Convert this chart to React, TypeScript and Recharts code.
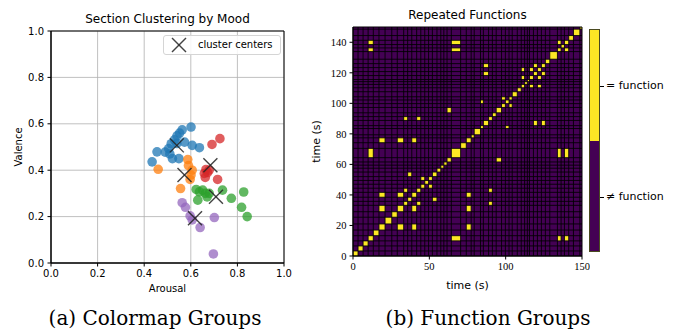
import React from "react";
import {
  CartesianGrid,
  ReferenceArea,
  ReferenceLine,
  Scatter,
  ScatterChart,
  XAxis,
  YAxis,
} from "recharts";

// (a) sections per mood cluster
const blueSections = [
  { arousal: 0.434, valence: 0.436 },
  { arousal: 0.455, valence: 0.479 },
  { arousal: 0.49, valence: 0.478 },
  { arousal: 0.505, valence: 0.493 },
  { arousal: 0.516, valence: 0.514 },
  { arousal: 0.53, valence: 0.531 },
  { arousal: 0.541, valence: 0.548 },
  { arousal: 0.552, valence: 0.56 },
  { arousal: 0.563, valence: 0.574 },
  { arousal: 0.601, valence: 0.586 },
  { arousal: 0.573, valence: 0.521 },
  { arousal: 0.606, valence: 0.507 },
  { arousal: 0.637, valence: 0.497 },
  { arousal: 0.521, valence: 0.45 },
  { arousal: 0.549, valence: 0.45 },
  { arousal: 0.51, valence: 0.47 },
  { arousal: 0.54, valence: 0.515 },
];
const orangeSections = [
  { arousal: 0.46, valence: 0.404 },
  { arousal: 0.587, valence: 0.446 },
  { arousal: 0.606, valence: 0.4 },
  { arousal: 0.601, valence: 0.379 },
  { arousal: 0.597, valence: 0.36 },
  { arousal: 0.556, valence: 0.321 },
  { arousal: 0.59, valence: 0.42 },
];
const greenSections = [
  { arousal: 0.623, valence: 0.317 },
  { arousal: 0.637, valence: 0.307 },
  { arousal: 0.63, valence: 0.271 },
  { arousal: 0.651, valence: 0.314 },
  { arousal: 0.662, valence: 0.3 },
  { arousal: 0.679, valence: 0.3 },
  { arousal: 0.736, valence: 0.314 },
  { arousal: 0.774, valence: 0.279 },
  { arousal: 0.827, valence: 0.306 },
  { arousal: 0.818, valence: 0.24 },
  { arousal: 0.842, valence: 0.2 },
  { arousal: 0.67, valence: 0.285 },
];
const redSections = [
  { arousal: 0.725, valence: 0.536 },
  { arousal: 0.691, valence: 0.511 },
  { arousal: 0.665, valence: 0.403 },
  { arousal: 0.658, valence: 0.386 },
  { arousal: 0.662, valence: 0.369 },
  { arousal: 0.679, valence: 0.4 },
  { arousal: 0.715, valence: 0.36 },
  { arousal: 0.672, valence: 0.39 },
];
const purpleSections = [
  { arousal: 0.563, valence: 0.26 },
  { arousal: 0.577, valence: 0.24 },
  { arousal: 0.597, valence: 0.203 },
  { arousal: 0.606, valence: 0.186 },
  { arousal: 0.64, valence: 0.153 },
  { arousal: 0.701, valence: 0.196 },
  { arousal: 0.697, valence: 0.039 },
];
const clusterCenters = [
  { arousal: 0.54, valence: 0.507 },
  { arousal: 0.573, valence: 0.379 },
  { arousal: 0.684, valence: 0.421 },
  { arousal: 0.708, valence: 0.286 },
  { arousal: 0.618, valence: 0.193 },
];
const moodTicks = [0, 0.2, 0.4, 0.6, 0.8, 1.0];

// (b) segment boundaries (s) and function label per segment ("" = unique)
const segmentBounds = [
  0, 3.3, 6.6, 9.9, 13.3, 17, 21, 25.4, 29, 33.2, 35.8, 38.5, 41.7, 44.4, 47,
  49.5, 52, 55, 57.5, 59.5, 61.6, 64.4, 70.5, 74.2, 77.4, 79.4, 83.5, 85.4,
  88.8, 91.3, 93.8, 97.3, 99.8, 102.2, 104.3, 107.6, 110.2, 112.4, 114.2,
  115.6, 118.2, 120.8, 123.4, 126, 128.9, 133.9, 136.3, 138.5, 141.3, 144.4,
  148.6, 150,
];
const segmentLabels = [
  "", "", "", "A", "", "B", "", "", "B", "C", "D", "B", "C", "J", "", "J",
  "D", "", "", "", "E", "A", "", "B", "", "", "F", "H", "C", "", "E", "G",
  "F", "G", "", "", "I", "", "", "I", "H", "I", "H", "", "", "A", "", "A",
  "", "", "",
];
const timeTicksX = [0, 50, 100, 150];
const timeTicksY = [0, 20, 40, 60, 80, 100, 120, 140];

const YELLOW = "#fde725";
const PURPLE = "#440154";

const sans = "DejaVu Sans, sans-serif";
const serif = "Liberation Serif, serif";

const dot = (color: string) => (props: any) => (
  <circle cx={props.cx} cy={props.cy} r={4.8} fill={color} fillOpacity={0.75} />
);

const cross = (props: any) => {
  const s = 7;
  return (
    <g stroke="#222" strokeOpacity={0.85} strokeWidth={1.4}>
      <line x1={props.cx - s} y1={props.cy - s} x2={props.cx + s} y2={props.cy + s} />
      <line x1={props.cx - s} y1={props.cy + s} x2={props.cx + s} y2={props.cy - s} />
    </g>
  );
};

function MoodScatter() {
  const tick = { fill: "#000", fontSize: 10, fontFamily: sans };
  return (
    <ScatterChart
      width={300}
      height={300}
      margin={{ top: 31, right: 16, bottom: 7, left: 0 }}
    >
      <CartesianGrid stroke="#b0b0b0" strokeWidth={0.8} />
      <XAxis
        type="number"
        dataKey="arousal"
        domain={[0, 1]}
        ticks={moodTicks}
        tickFormatter={(v) => v.toFixed(1)}
        tick={tick}
        tickSize={3.5}
        tickMargin={3.5}
        stroke="#000"
        height={30}
        label={{ value: "Arousal", position: "insideBottom", offset: 1.5, fill: "#000", fontSize: 10, fontFamily: sans }}
      />
      <YAxis
        type="number"
        dataKey="valence"
        domain={[0, 1]}
        ticks={moodTicks}
        tickFormatter={(v) => v.toFixed(1)}
        tick={tick}
        tickSize={3.5}
        tickMargin={3.5}
        stroke="#000"
        width={51}
        label={{ value: "Valence", angle: -90, position: "insideLeft", offset: 18, fill: "#000", fontSize: 10, fontFamily: sans, style: { textAnchor: "middle" } }}
      />
      <Scatter data={blueSections} shape={dot("#1f77b4")} isAnimationActive={false} />
      <Scatter data={orangeSections} shape={dot("#ff7f0e")} isAnimationActive={false} />
      <Scatter data={greenSections} shape={dot("#2ca02c")} isAnimationActive={false} />
      <Scatter data={redSections} shape={dot("#d62728")} isAnimationActive={false} />
      <Scatter data={purpleSections} shape={dot("#9467bd")} isAnimationActive={false} />
      <Scatter data={clusterCenters} shape={cross} isAnimationActive={false} />
      <ReferenceArea x1={0} x2={1} y1={0} y2={1} fill="none" stroke="#000" strokeWidth={1} />
    </ScatterChart>
  );
}

function RepeatMatrix() {
  const n = segmentLabels.length;
  const blocks: { key: string; x1: number; x2: number; y1: number; y2: number }[] = [];
  for (let i = 0; i < n; i++) {
    for (let j = 0; j < n; j++) {
      const same = i === j || (segmentLabels[i] !== "" && segmentLabels[i] === segmentLabels[j]);
      if (same) {
        blocks.push({
          key: `${i}-${j}`,
          x1: segmentBounds[j],
          x2: segmentBounds[j + 1],
          y1: segmentBounds[i],
          y2: segmentBounds[i + 1],
        });
      }
    }
  }
  const inner = segmentBounds.slice(1, -1);
  const tick = { fill: "#000", fontSize: 10.5, fontFamily: serif };
  return (
    <ScatterChart
      width={285}
      height={300}
      margin={{ top: 27, right: 8, bottom: 8, left: 0 }}
    >
      <XAxis
        type="number"
        dataKey="t"
        domain={[0, 150]}
        ticks={timeTicksX}
        tick={tick}
        tickSize={3.5}
        tickMargin={3}
        stroke="#000"
        height={36}
        allowDataOverflow
        label={{ value: "time (s)", position: "insideBottom", offset: 3, fill: "#000", fontSize: 11, fontFamily: sans }}
      />
      <YAxis
        type="number"
        dataKey="t"
        domain={[0, 150]}
        ticks={timeTicksY}
        tick={tick}
        tickSize={3.5}
        tickMargin={3}
        stroke="#000"
        width={48}
        allowDataOverflow
        label={{ value: "time (s)", angle: -90, position: "insideLeft", offset: 11, fill: "#000", fontSize: 11, fontFamily: sans, style: { textAnchor: "middle" } }}
      />
      <ReferenceArea x1={0} x2={150} y1={0} y2={150} fill={PURPLE} fillOpacity={1} stroke="none" />
      {blocks.map((b) => (
        <ReferenceArea key={b.key} x1={b.x1} x2={b.x2} y1={b.y1} y2={b.y2} fill={YELLOW} fillOpacity={1} stroke="none" />
      ))}
      {inner.map((t) => (
        <ReferenceLine key={`v${t}`} x={t} stroke="#000" strokeWidth={1} strokeOpacity={0.85} />
      ))}
      {inner.map((t) => (
        <ReferenceLine key={`h${t}`} y={t} stroke="#000" strokeWidth={1} strokeOpacity={0.85} />
      ))}
      <ReferenceArea x1={0} x2={150} y1={0} y2={150} fill="none" stroke="#000" strokeWidth={1} />
    </ScatterChart>
  );
}

export default function App() {
  const abs = (l: number, t: number): React.CSSProperties => ({ position: "absolute", left: l, top: t });
  return (
    <div style={{ position: "absolute", left: 0, top: 0, width: 681, height: 335, background: "#fff", overflow: "hidden" }}>
      <div style={abs(0, 0)}>
        <MoodScatter />
      </div>
      <div style={{ ...abs(51, 12), width: 233, textAlign: "center", fontFamily: sans, fontSize: 12, lineHeight: "14px" }}>
        Section Clustering by Mood
      </div>
      <div
        style={{
          ...abs(163, 35),
          width: 116,
          height: 18,
          border: "1px solid #d5d5d5",
          borderRadius: 3,
          background: "rgba(255,255,255,0.85)",
        }}
      >
        <svg width={30} height={18} style={{ position: "absolute", left: 0, top: 0 }}>
          <g stroke="#222" strokeOpacity={0.85} strokeWidth={1.4}>
            <line x1={8} y1={2} x2={22} y2={16} />
            <line x1={8} y1={16} x2={22} y2={2} />
          </g>
        </svg>
        <div style={{ position: "absolute", left: 34, top: 2, fontFamily: sans, fontSize: 10, lineHeight: "13px" }}>
          cluster centers
        </div>
      </div>

      <div style={abs(305, 0)}>
        <RepeatMatrix />
      </div>
      <div style={{ ...abs(353, 8), width: 229, textAlign: "center", fontFamily: sans, fontSize: 12, lineHeight: "14px" }}>
        Repeated Functions
      </div>
      {/* colorbar */}
      <div style={{ ...abs(589, 29), width: 11, height: 223, border: "1px solid #4a4a20", boxSizing: "border-box" }}>
        <div style={{ height: "50%", background: YELLOW }} />
        <div style={{ height: "50%", background: PURPLE }} />
      </div>
      <div style={{ ...abs(600, 86), width: 3.5, height: 1, background: "#000" }} />
      <div style={{ ...abs(600, 197), width: 3.5, height: 1, background: "#000" }} />
      <div style={{ ...abs(606, 79), fontFamily: sans, fontSize: 11, lineHeight: "14px", whiteSpace: "nowrap" }}>= function</div>
      <div style={{ ...abs(606, 190), fontFamily: sans, fontSize: 11, lineHeight: "14px", whiteSpace: "nowrap" }}>≠ function</div>

      <div style={{ ...abs(0, 306), width: 310, textAlign: "center", fontFamily: "DejaVu Serif, serif", fontSize: 20, lineHeight: "24px" }}>
        (a) Colormap Groups
      </div>
      <div style={{ ...abs(333, 306), width: 310, textAlign: "center", fontFamily: "DejaVu Serif, serif", fontSize: 20, lineHeight: "24px" }}>
        (b) Function Groups
      </div>
    </div>
  );
}
